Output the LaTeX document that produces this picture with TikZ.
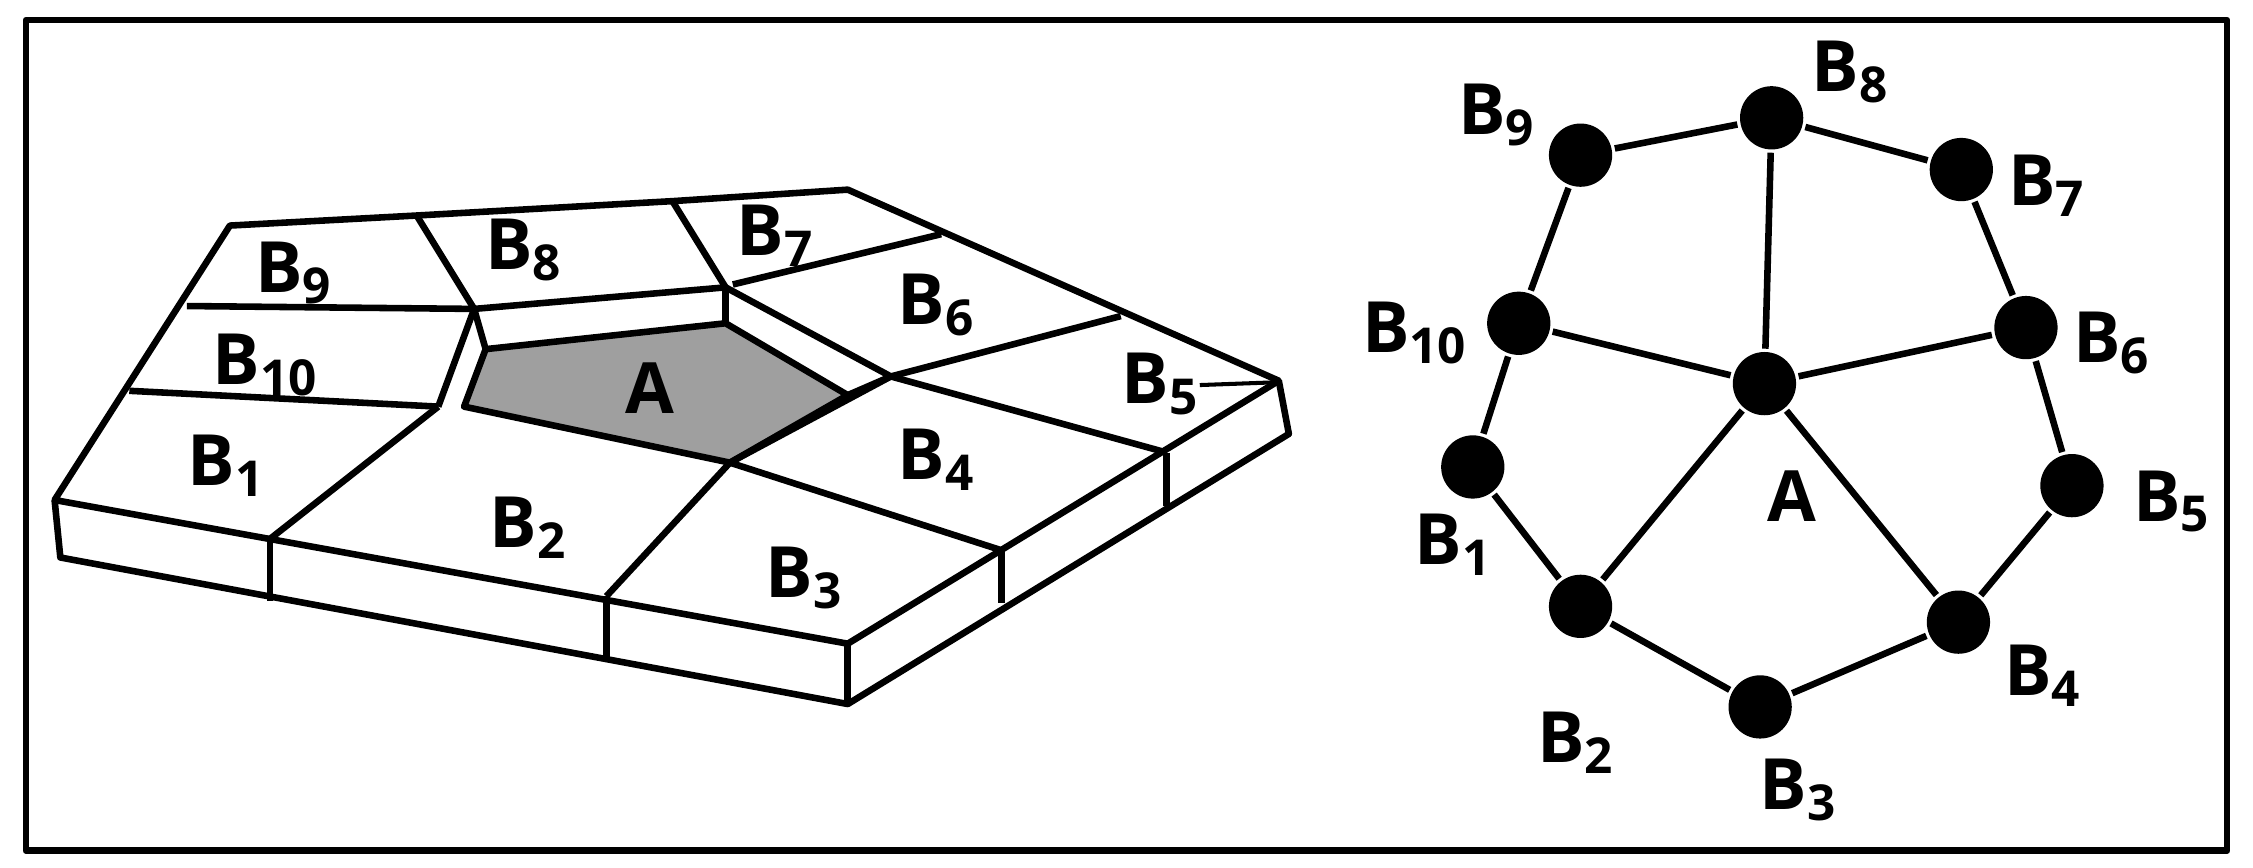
\documentclass[tikz,border=0pt]{standalone}
\usepackage{fontspec}
\setmainfont{Open Sans}
\newcommand{\bs}[1]{B\textsubscript{#1}}
\begin{document}
\begin{tikzpicture}[x=0.01cm,y=-0.01cm,line width=1.3pt,line join=round,
  lab/.style={font=\fontsize{14}{16}\selectfont\bfseries,inner sep=0pt},
  dot/.style={circle,fill=black,minimum size=0.44cm,inner sep=0pt}]
\useasboundingbox (0,0) rectangle (1568,604);
\draw (18,14) rectangle (1550,592);
% slab
\coordinate (c1) at (38,348); \coordinate (c2) at (160,157); \coordinate (c3) at (290,150);
\coordinate (c4) at (468,140); \coordinate (c5) at (590,132); \coordinate (c6) at (890,265);
\coordinate (c7) at (590,448); \coordinate (d1) at (42,388); \coordinate (d7) at (590,490);
\coordinate (d6) at (897,302);
\draw (c1)--(c2)--(c3)--(c4)--(c5)--(c6)--(c7)--cycle;
\draw (c1)--(d1)--(d7)--(d6)--(c6); \draw (c7)--(d7);
\draw (188,375)--(188,418); \draw (422,415)--(422,458);
\draw (697,383)--(697,420); \draw (812,315)--(812,352);
% A recess
\coordinate (q1) at (330,215); \coordinate (q2) at (505,200); \coordinate (q3) at (620,262);
\coordinate (q4) at (508,322); \coordinate (q5) at (305,283);
\coordinate (a1) at (338,243); \coordinate (a2) at (505,225); \coordinate (a3) at (590,275);
\fill[gray!75] (a1)--(a2)--(a3)--(q4)--(323,283)--cycle;
\draw (a1)--(a2)--(a3)--(q4)--(323,283)--cycle;
\draw (q5)--(q1)--(q2)--(q3)--(q4);
\draw (q1)--(a1); \draw (q2)--(a2); \draw (q3)--(a3);
% dividers
\draw (130,213)--(q1); \draw (90,272)--(q5);
\draw (c3)--(q1); \draw (c4)--(q2);
\draw (510,198)--(655,163); \draw (q3)--(780,220); \draw (q3)--(812,315);
\draw (q4)--(697,383); \draw (q4)--(422,415); \draw (q5)--(188,375);
\draw[line width=0.8pt] (835,268)--(890,266);
\foreach \p/\t in {{205,190}/9,{365,174}/8,{540,164}/7,{652,212}/6,
  {185,254}/10,{808,267}/5,{158,324}/1,{368,367}/2,{652,320}/4,{560,402}/3}
  \node[lab] at (\p) {\bs{\t}};
\node[lab] at (452,270) {A};
% graph
\node[dot] (A) at (1228,267) {};
\node[dot] (b8) at (1233,82) {}; \node[dot] (b9) at (1100,108) {};
\node[dot] (b7) at (1365,118) {}; \node[dot] (b10) at (1057,225) {};
\node[dot] (b6) at (1410,228) {}; \node[dot] (b1) at (1025,325) {};
\node[dot] (b5) at (1442,338) {}; \node[dot] (b2) at (1100,422) {};
\node[dot] (b4) at (1363,433) {}; \node[dot] (b3) at (1225,492) {};
\draw (b1)--(b2)--(b3)--(b4)--(b5)--(b6)--(b7)--(b8)--(b9)--(b10)--(b1);
\foreach \n in {b8,b10,b6,b2,b4} \draw (A)--(\n);
\node[lab] at (1288,50) {\bs{8}}; \node[lab] at (1042,80) {\bs{9}};
\node[lab] at (1425,129) {\bs{7}}; \node[lab] at (985,232) {\bs{10}};
\node[lab] at (1470,239) {\bs{6}}; \node[lab] at (1247,345) {A};
\node[lab] at (1012,379) {\bs{1}}; \node[lab] at (1512,349) {\bs{5}};
\node[lab] at (1097,517) {\bs{2}}; \node[lab] at (1422,470) {\bs{4}};
\node[lab] at (1252,550) {\bs{3}};
\end{tikzpicture}
\end{document}
